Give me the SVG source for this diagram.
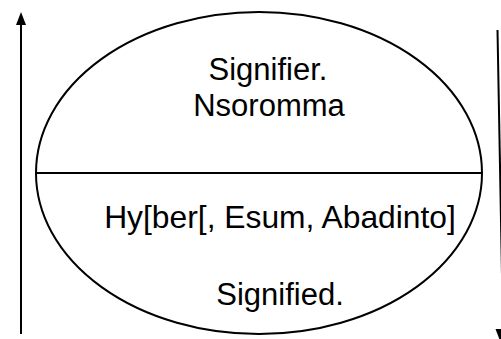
<svg xmlns="http://www.w3.org/2000/svg" width="501" height="339" viewBox="0 0 501 339">
<style>
.t{font-family:"Liberation Sans",Arial,sans-serif;font-size:31px;fill:#000;text-anchor:middle}
.s{fill:none;stroke:#000;stroke-width:2}
</style>
<rect width="501" height="339" fill="#fff"/>
<g id="sign">
<ellipse class="s" cx="259" cy="173" rx="223" ry="161"/>
<line class="s" x1="36" y1="173" x2="482" y2="173" stroke-width="1.5"/>
<text class="t" x="268" y="80">Signifier.</text>
<text class="t" x="269" y="116">Nsoromma</text>
<text class="t" x="280" y="228" style="font-size:31.8px">Hy[ber[, Esum, Abadinto]</text>
<text class="t" x="280" y="305">Signified.</text>
</g>
<g id="connectors">
<line class="s" x1="21" y1="334" x2="21" y2="25"/>
<path d="M16,25 L21,12 L26,25 Z" fill="#000"/>
<line class="s" x1="497.5" y1="30" x2="503" y2="330"/>
<path d="M495.5,329 L505.5,329 L500.5,342 Z" fill="#000"/>
</g>
</svg>
